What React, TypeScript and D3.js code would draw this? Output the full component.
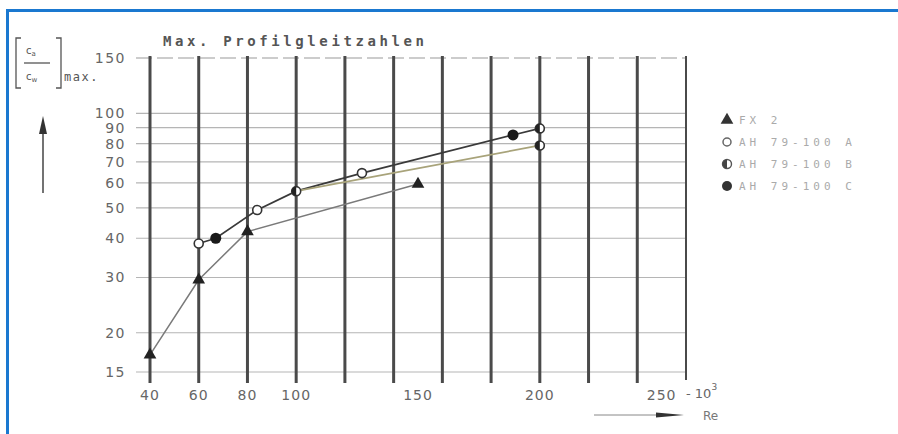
import React from 'react';
import * as d3 from 'd3';

// x: Re (x 10^3), y: (ca/cw) max, log scale
const reGrid = [40, 60, 80, 100, 120, 140, 160, 180, 200, 220, 240, 260];
const reTicks = [40, 60, 80, 100, 150, 200, 250];
const cdTicks = [15, 20, 30, 40, 50, 60, 70, 80, 90, 100, 150];

// series markers
const fxRe = [40, 60, 80, 150];
const fxVal = [17, 29.5, 42, 59.5];
const ahARe = [60, 84, 127];
const ahAVal = [38.5, 49.2, 64.5];
const ahBRe = [100, 200, 200];
const ahBVal = [56.5, 89.5, 79];
const ahCRe = [67, 189];
const ahCVal = [40, 85.3];

// connecting curves
const upperRe = [60, 67, 84, 100, 127, 189, 200];
const upperVal = [38.5, 40, 49.2, 56.5, 64.5, 85.3, 89.5];
const lowerRe = [100, 200];
const lowerVal = [56.5, 79];

const legendLabels = ['FX 2', 'AH 79-100 A', 'AH 79-100 B', 'AH 79-100 C'];

export default function App() {
  const width = 898;
  const height = 434;

  const x = d3.scaleLinear().domain([40, 260]).range([150, 686]);
  const y = d3.scaleLog().domain([15, 150]).range([372, 58]);

  const line = d3.line<[number, number]>()
    .x(d => x(d[0]))
    .y(d => y(d[1]));

  const zip = (a: number[], b: number[]) => a.map((v, i) => [v, b[i]] as [number, number]);

  const tri = d3.symbol().type(d3.symbolTriangle).size(70)();
  const halfLeft = (cx: number, cy: number, r: number) =>
    `M${cx},${cy - r}A${r},${r} 0 0,0 ${cx},${cy + r}Z`;

  const mono = '"DejaVu Sans Mono", "Liberation Mono", monospace';
  const sans = '"DejaVu Sans", sans-serif';

  return (
    <svg width={width} height={height} style={{ position: 'absolute', left: 0, top: 0, background: '#fff' }}>
      <rect x={7.5} y={10.5} width={905} height={440} fill="none" stroke="#1a78d0" strokeWidth={3} />

      {/* title */}
      <text x={163} y={46} fontFamily={mono} fontSize={14} fontWeight="bold" letterSpacing={3.6} fill="#555">
        Max. Profilgleitzahlen
      </text>

      {/* y axis label */}
      <g stroke="#555" strokeWidth={1.3} fill="none">
        <path d="M21,38 H16 V88 H21" />
        <path d="M56,38 H61 V88 H56" />
        <line x1={24} x2={50} y1={63} y2={63} />
      </g>
      <text x={26} y={54} fontFamily={sans} fontSize={10} fill="#555">c<tspan fontSize={7} dy={2}>a</tspan></text>
      <text x={26} y={80} fontFamily={sans} fontSize={10} fill="#555">c<tspan fontSize={7} dy={2}>w</tspan></text>
      <text x={64} y={81} fontFamily={mono} fontSize={12} letterSpacing={1.5} fill="#555">max.</text>
      <line x1={43} x2={43} y1={132} y2={193} stroke="#444" strokeWidth={1.5} />
      <path d="M43,116 L39,134 L47,134 Z" fill="#333" />

      {/* horizontal grid */}
      {cdTicks.map(v => (
        <g key={'h' + v}>
          <line x1={136} x2={686} y1={y(v)} y2={y(v)} stroke={v === 150 ? '#999' : '#b5b5b5'}
            strokeWidth={1.2} strokeDasharray={v === 150 ? '16 5' : undefined} />
          <text x={126} y={y(v) + 5} textAnchor="end" fontFamily={sans} fontSize={14}
            letterSpacing={1.5} fill="#666">{v}</text>
        </g>
      ))}

      {/* vertical grid */}
      {reGrid.map((v, i) => (
        <line key={'v' + v} x1={x(v)} x2={x(v)} y1={56} y2={i === reGrid.length - 1 ? 380 : 383}
          stroke="#4a4a4a" strokeWidth={i === reGrid.length - 1 ? 2 : 3} />
      ))}
      {reTicks.map(v => (
        <text key={'t' + v} x={x(v)} y={400} textAnchor="middle" fontFamily={sans} fontSize={14}
          letterSpacing={1} fill="#666">{v}</text>
      ))}
      <text x={686} y={398} fontFamily={sans} fontSize={13} fill="#666">
        - 10<tspan fontSize={9} dy={-8}>3</tspan>
      </text>

      {/* Re arrow */}
      <line x1={594} x2={660} y1={415} y2={415} stroke="#888" strokeWidth={1} />
      <path d="M656,412.5 L684,415 L656,417.5 Z" fill="#333" />
      <text x={703} y={420} fontFamily={sans} fontSize={12} fill="#777">Re</text>

      {/* curves */}
      <path d={line(zip(fxRe, fxVal)) || ''} fill="none" stroke="#7a7a7a" strokeWidth={1.5} />
      <path d={line(zip(upperRe, upperVal)) || ''} fill="none" stroke="#3a3a3a" strokeWidth={1.7} />
      <path d={line(zip(lowerRe, lowerVal)) || ''} fill="none" stroke="#a8a37a" strokeWidth={1.7} />

      {/* markers */}
      {fxRe.map((r, i) => (
        <path key={'fx' + i} d={tri || ''} transform={`translate(${x(r)},${y(fxVal[i])})`} fill="#222" />
      ))}
      {ahARe.map((r, i) => (
        <circle key={'a' + i} cx={x(r)} cy={y(ahAVal[i])} r={4.5} fill="#fff" stroke="#333" strokeWidth={1.6} />
      ))}
      {ahBRe.map((r, i) => (
        <g key={'b' + i}>
          <circle cx={x(r)} cy={y(ahBVal[i])} r={4.5} fill="#fff" stroke="#333" strokeWidth={1.6} />
          <path d={halfLeft(x(r), y(ahBVal[i]), 4.5)} fill="#222" />
        </g>
      ))}
      {ahCRe.map((r, i) => (
        <circle key={'c' + i} cx={x(r)} cy={y(ahCVal[i])} r={5.5} fill="#1a1a1a" />
      ))}

      {/* legend */}
      {legendLabels.map((label, i) => {
        const ly = 120 + i * 22;
        return (
          <g key={label}>
            {i === 0 && <path d={tri || ''} transform={`translate(727,${ly})`} fill="#333" />}
            {i === 1 && <circle cx={727} cy={ly} r={4} fill="#fff" stroke="#666" strokeWidth={1.5} />}
            {i === 2 && (
              <g>
                <circle cx={727} cy={ly} r={4.5} fill="#fff" stroke="#555" strokeWidth={1.4} />
                <path d={halfLeft(727, ly, 4.5)} fill="#444" />
              </g>
            )}
            {i === 3 && <circle cx={727} cy={ly} r={5} fill="#333" />}
            <text x={739} y={ly + 4} fontFamily={mono} fontSize={11} letterSpacing={4} fill="#aaa">
              {label}
            </text>
          </g>
        );
      })}
    </svg>
  );
}
